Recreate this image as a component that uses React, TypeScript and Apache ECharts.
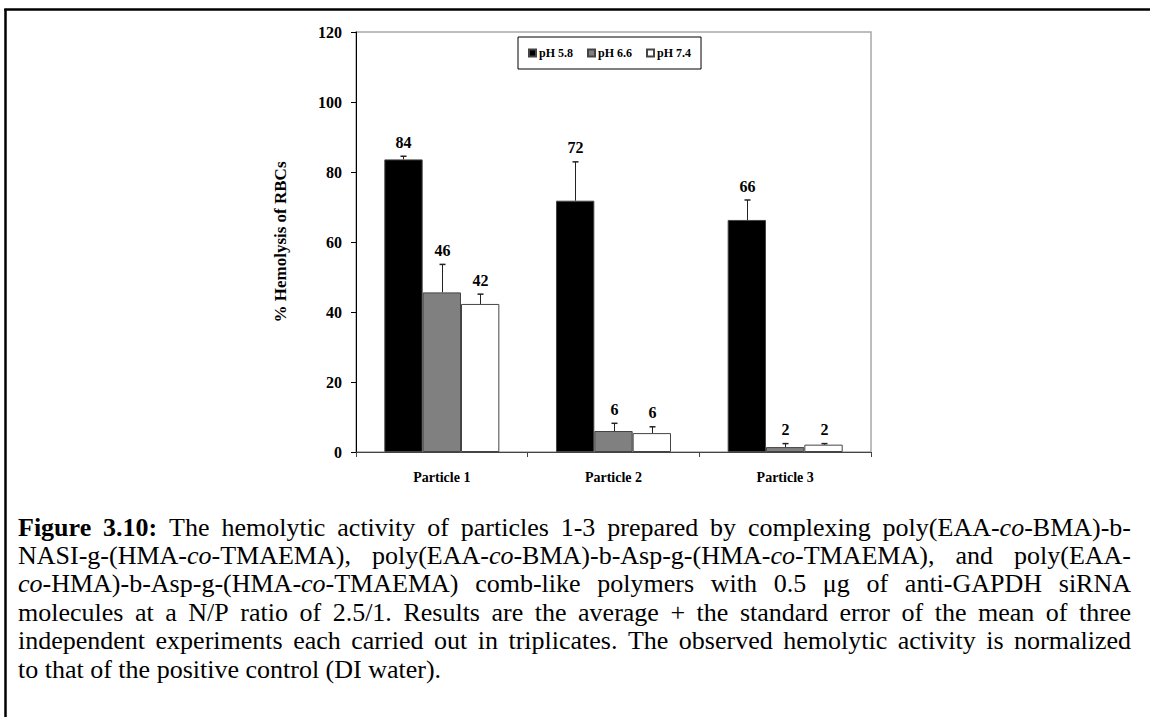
import React, { useEffect, useRef } from 'react';
import * as echarts from 'echarts';

const categories = ['Particle 1', 'Particle 2', 'Particle 3'];
const seriesNames = ['pH 5.8', 'pH 6.6', 'pH 7.4'];
const ph58 = [83.6, 71.8, 66.3];
const ph66 = [45.6, 6.0, 1.4];
const ph74 = [42.3, 5.4, 2.1];
const ph58Err = [0.9, 11.1, 5.7];
const ph66Err = [8.0, 2.2, 1.0];
const ph74Err = [2.8, 1.8, 0.3];
const ph58Labels = ['84', '72', '66'];
const ph66Labels = ['46', '6', '2'];
const ph74Labels = ['42', '6', '2'];
const yMin = 0;
const yMax = 120;
const yStep = 20;
const yAxisTitle = '% Hemolysis of RBCs';

// caption: *bold*, _italic_
const captionLines = [
  '*Figure 3.10:* The hemolytic activity of particles 1-3 prepared by complexing poly(EAA-_co_-BMA)-b-',
  'NASI-g-(HMA-_co_-TMAEMA), poly(EAA-_co_-BMA)-b-Asp-g-(HMA-_co_-TMAEMA), and poly(EAA-',
  '_co_-HMA)-b-Asp-g-(HMA-_co_-TMAEMA) comb-like polymers with 0.5 μg of anti-GAPDH siRNA',
  'molecules at a N/P ratio of 2.5/1. Results are the average + the standard error of the mean of three',
  'independent experiments each carried out in triplicates. The observed hemolytic activity is normalized',
  'to that of the positive control (DI water).',
];

const FONT = '"Liberation Serif", "Times New Roman", serif';
const CAP_SIZE = 26;
const CAP_LEFT = 18;
const CAP_RIGHT = 1131;
const CAP_Y0 = 527;
const CAP_DY = 28.4;
const BAR_CAT_GAP = 0.33;

type Seg = { t: string; b: boolean; i: boolean };

function parseLine(s: string): Seg[][] {
  let bold = false;
  let italic = false;
  const words: Seg[][] = [];
  let cur: Seg[] = [];
  let buf = '';
  const flush = () => {
    if (buf) {
      cur.push({ t: buf, b: bold, i: italic });
      buf = '';
    }
  };
  for (const ch of s) {
    if (ch === '*') {
      flush();
      bold = !bold;
    } else if (ch === '_') {
      flush();
      italic = !italic;
    } else if (ch === ' ') {
      flush();
      if (cur.length) words.push(cur);
      cur = [];
    } else buf += ch;
  }
  flush();
  if (cur.length) words.push(cur);
  return words;
}

function captionElements() {
  const canvas = document.createElement('canvas');
  const ctx = canvas.getContext('2d')!;
  const fontOf = (seg: { b: boolean; i: boolean }) =>
    `${seg.i ? 'italic ' : ''}${seg.b ? 'bold ' : ''}${CAP_SIZE}px ${FONT}`;
  const measure = (seg: Seg) => {
    ctx.font = fontOf(seg);
    return ctx.measureText(seg.t).width;
  };
  const els: any[] = [];
  captionLines.forEach((line, li) => {
    const words = parseLine(line);
    const widths = words.map((w) => w.reduce((a, s) => a + measure(s), 0));
    const total = widths.reduce((a, b) => a + b, 0);
    const justify = li < captionLines.length - 1;
    ctx.font = fontOf({ b: false, i: false });
    const normalGap = ctx.measureText(' ').width;
    const gap = justify ? (CAP_RIGHT - CAP_LEFT - total) / (words.length - 1) : normalGap;
    const y = CAP_Y0 + li * CAP_DY;
    let x = CAP_LEFT;
    words.forEach((w, wi) => {
      let sx = x;
      w.forEach((seg) => {
        els.push({
          type: 'text',
          x: sx,
          y,
          silent: true,
          style: {
            text: seg.t,
            fontFamily: FONT,
            fontSize: CAP_SIZE,
            fontWeight: seg.b ? 'bold' : 'normal',
            fontStyle: seg.i ? 'italic' : 'normal',
            fill: '#000',
            textAlign: 'left',
            textVerticalAlign: 'middle',
          },
        });
        sx += measure(seg);
      });
      x += widths[wi] + gap;
    });
  });
  return els;
}

function errorSeries(k: number, values: number[], errs: number[], labels: string[]) {
  return {
    type: 'custom',
    name: seriesNames[k] + ' err',
    z: 5,
    silent: true,
    data: values.map((v, i) => [i, v, errs[i]]),
    encode: { x: 0, y: 1 },
    renderItem: (params: any, api: any) => {
      const ci = api.value(0);
      const v = api.value(1);
      const e = api.value(2);
      const c = api.coord([ci, 0]);
      const catW = api.size([1, 0])[0];
      const bw = (catW * (1 - BAR_CAT_GAP)) / 3;
      const x = Math.round(c[0] + (k - 1) * bw) + 0.5;
      const top = api.coord([ci, v])[1];
      const cap = api.coord([ci, v + e])[1];
      return {
        type: 'group',
        children: [
          { type: 'line', shape: { x1: x, y1: top, x2: x, y2: cap }, style: { stroke: '#222', lineWidth: 1 } },
          { type: 'line', shape: { x1: x - 3, y1: cap, x2: x + 3, y2: cap }, style: { stroke: '#222', lineWidth: 1.5 } },
          {
            type: 'text',
            x,
            y: cap - 6,
            style: {
              text: labels[params.dataIndex],
              fontFamily: FONT,
              fontSize: 16,
              fontWeight: 'bold',
              fill: '#000',
              textAlign: 'center',
              textVerticalAlign: 'bottom',
            },
          },
        ],
      };
    },
  };
}

function buildOption() {
  const barBase = {
    type: 'bar',
    barGap: '0%',
    barCategoryGap: BAR_CAT_GAP * 100 + '%',
  };
  return {
    animation: false,
    backgroundColor: '#fff',
    textStyle: { fontFamily: FONT },
    grid: {
      left: 356,
      right: 279,
      top: 32,
      bottom: 265,
      show: true,
      borderColor: '#a8a8a8',
      borderWidth: 1.5,
      backgroundColor: 'transparent',
    },
    legend: {
      data: seriesNames,
      left: 518,
      top: 37,
      orient: 'horizontal',
      itemWidth: 7,
      itemHeight: 7,
      itemGap: 14,
      padding: [10, 10, 10, 10],
      borderColor: '#000',
      borderWidth: 1,
      backgroundColor: '#fff',
      textStyle: { fontFamily: FONT, fontSize: 12, fontWeight: 'bold', color: '#000', padding: [0, 0, 0, -2] },
      icon: 'rect',
      selectedMode: false,
    },
    xAxis: {
      type: 'category',
      data: categories,
      axisLine: { lineStyle: { color: '#444', width: 1 } },
      axisTick: { show: true, length: 5, lineStyle: { color: '#444' } },
      axisLabel: { fontFamily: FONT, fontSize: 14, fontWeight: 'bold', color: '#000', margin: 18 },
    },
    yAxis: {
      type: 'value',
      min: yMin,
      max: yMax,
      interval: yStep,
      name: yAxisTitle,
      nameLocation: 'middle',
      nameGap: 67,
      nameTextStyle: { fontFamily: FONT, fontSize: 17, fontWeight: 'bold', color: '#000' },
      axisLine: { show: true, lineStyle: { color: '#000', width: 1 } },
      axisTick: { show: true, length: 5, lineStyle: { color: '#000' } },
      axisLabel: { fontFamily: FONT, fontSize: 16, fontWeight: 'bold', color: '#000', margin: 14 },
      splitLine: { show: false },
    },
    series: [
      { ...barBase, name: seriesNames[0], data: ph58, itemStyle: { color: '#000', borderColor: '#444', borderWidth: 1 } },
      { ...barBase, name: seriesNames[1], data: ph66, itemStyle: { color: '#808080', borderColor: '#444', borderWidth: 1 } },
      { ...barBase, name: seriesNames[2], data: ph74, itemStyle: { color: '#fff', borderColor: '#444', borderWidth: 1 } },
      errorSeries(0, ph58, ph58Err, ph58Labels),
      errorSeries(1, ph66, ph66Err, ph66Labels),
      errorSeries(2, ph74, ph74Err, ph74Labels),
    ],
    graphic: {
      elements: [
        { type: 'line', silent: true, shape: { x1: 5.5, y1: 9, x2: 5.5, y2: 717 }, style: { stroke: '#000', lineWidth: 2.5 } },
        { type: 'line', silent: true, shape: { x1: 4.25, y1: 9.5, x2: 1150, y2: 9.5 }, style: { stroke: '#000', lineWidth: 2.5 } },
        ...captionElements(),
      ],
    },
  };
}

export default function App() {
  const ref = useRef<HTMLDivElement>(null);
  useEffect(() => {
    document.body.style.margin = '0';
    const chart = echarts.init(ref.current!, null, { renderer: 'svg' });
    chart.setOption(buildOption() as any);
    return () => chart.dispose();
  }, []);
  return <div ref={ref} style={{ width: 1150, height: 717 }} />;
}
